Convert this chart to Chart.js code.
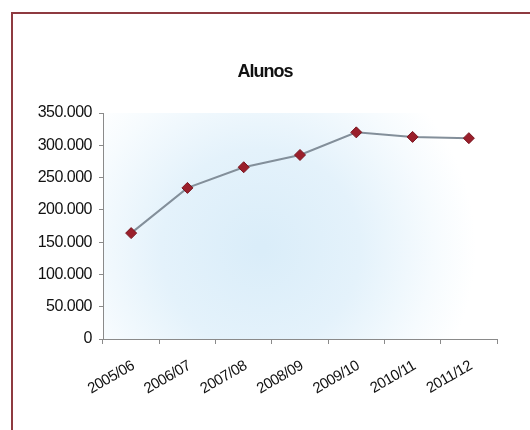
<!DOCTYPE html>
<html>
<head>
<meta charset="utf-8">
<script src="https://cdn.jsdelivr.net/npm/chart.js@4"></script>
<style>
  html, body { margin: 0; padding: 0; background: #fff; }
  #wrap { position: relative; width: 530px; height: 430px; overflow: hidden; }
  #frame { position: absolute; left: 11px; top: 12px; width: 600px; height: 500px;
           border-left: 2px solid #8e3a40; border-top: 2px solid #8e3a40; pointer-events: none; }
  canvas { position: absolute; left: 0; top: 0; }
</style>
</head>
<body>
<div id="wrap">
  <canvas id="c" width="530" height="430"></canvas>
  <div id="frame"></div>
</div>
<script>
const chartTitle = 'Alunos';
const categories = ['2005/06', '2006/07', '2007/08', '2008/09', '2009/10', '2010/11', '2011/12'];
const alunos = [164000, 234000, 266000, 285000, 320000, 313000, 311000];
const yMin = 0, yMax = 350000, yStep = 50000;

function fmt(v) {
  return String(v).replace(/\B(?=(\d{3})+(?!\d))/g, '.');
}

const bgPlugin = {
  id: 'bg',
  beforeDraw(chart) {
    const { ctx, chartArea: a } = chart;
    ctx.save();
    ctx.fillStyle = '#ffffff';
    ctx.fillRect(0, 0, chart.width, chart.height);
    const cx = a.left + (a.right - a.left) * 0.4;
    const cy = a.top + (a.bottom - a.top) * 0.6;
    const g = ctx.createRadialGradient(cx, cy, 5, cx, cy, 215);
    g.addColorStop(0, 'rgb(218,237,249)');
    g.addColorStop(0.45, 'rgb(228,242,251)');
    g.addColorStop(0.8, 'rgb(246,251,254)');
    g.addColorStop(1, 'rgb(255,255,255)');
    ctx.fillStyle = g;
    ctx.fillRect(a.left, a.top, a.right - a.left, a.bottom - a.top);
    ctx.restore();
    ctx.letterSpacing = '-0.5px';
  },
  afterDraw(chart) {
    const ctx = chart.ctx;
    ctx.save();
    ctx.letterSpacing = '-1px';
    ctx.font = 'bold 18px "Liberation Sans", Arial, sans-serif';
    ctx.fillStyle = '#111';
    ctx.textAlign = 'center';
    ctx.textBaseline = 'middle';
    ctx.fillText(chartTitle, 265, 72);
    ctx.restore();
  }
};

new Chart(document.getElementById('c'), {
  type: 'line',
  data: {
    labels: categories,
    datasets: [{
      data: alunos,
      borderColor: '#838f9a',
      borderWidth: 2,
      pointStyle: 'rectRot',
      pointRadius: 5.5,
      pointBackgroundColor: '#9a1f2b',
      pointBorderColor: '#7a1620',
      pointBorderWidth: 1,
      tension: 0
    }]
  },
  options: {
    responsive: false,
    animation: false,
    layout: { padding: { top: 113, right: 33, bottom: 0, left: 0 } },
    plugins: { legend: { display: false }, tooltip: { enabled: false }, title: { display: false } },
    scales: {
      x: {
        offset: true,
        grid: { offset: true, drawOnChartArea: false, tickLength: 5, color: '#8a8a8a' },
        border: { color: '#8a8a8a', width: 1 },
        ticks: {
          minRotation: 30, maxRotation: 30, padding: 13, labelOffset: 2,
          color: '#111', font: { family: '"Liberation Sans", Arial, sans-serif', size: 15 }
        },
        afterFit(s) { s.height = 91; }
      },
      y: {
        min: yMin, max: yMax,
        grid: { drawOnChartArea: false, tickLength: 4, color: '#8a8a8a' },
        border: { color: '#8a8a8a', width: 1 },
        ticks: {
          stepSize: yStep, padding: 7, color: '#111',
          font: { family: '"Liberation Sans", Arial, sans-serif', size: 16 },
          callback: v => fmt(v)
        },
        afterFit(s) { s.width = 103; }
      }
    }
  },
  plugins: [bgPlugin]
});
</script>
</body>
</html>
